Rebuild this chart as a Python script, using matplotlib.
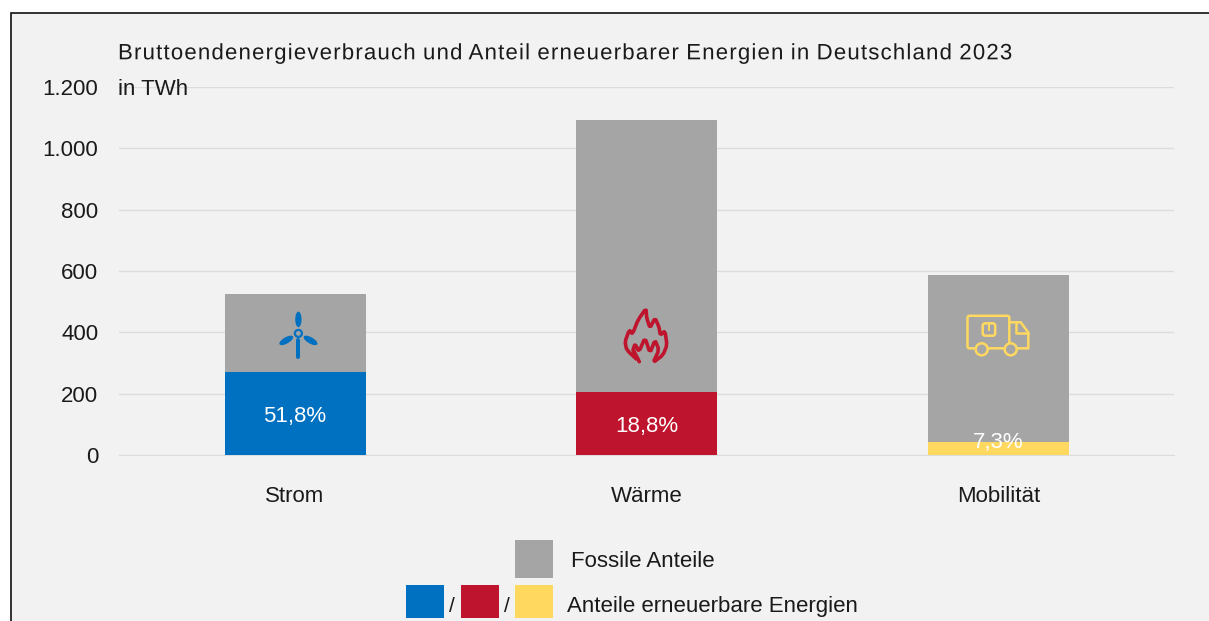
import numpy as np
import matplotlib
matplotlib.use("Agg")
import matplotlib.pyplot as plt
from matplotlib.patches import Rectangle, Circle, Ellipse, PathPatch, FancyBboxPatch
from matplotlib.path import Path
from matplotlib.patheffects import AbstractPathEffect
from matplotlib.transforms import Affine2D, IdentityTransform

categories = ["Strom", "Wärme", "Mobilität"]
renewable = [272, 205, 43]
fossil = [254, 889, 544]
share_labels = ["51,8%", "18,8%", "7,3%"]
yticks = [0, 200, 400, 600, 800, 1000, 1200]
ytick_labels = ["0", "200", "400", "600", "800", "1.000", "1.200"]
title = "Bruttoendenergieverbrauch und Anteil erneuerbarer Energien in Deutschland 2023"
unit = "in TWh"
legend_fossil = "Fossile Anteile"
legend_renew = "Anteile erneuerbare Energien"

GREY = "#a5a5a5"
BLUE = "#0070c0"
RED = "#be142d"
YELLOW = "#ffd860"
BG = "#f2f2f2"
TXT = "#1a1a1a"
FS = 16

W, H = 1209, 621
plt.rcParams["font.family"] = ["Liberation Sans", "DejaVu Sans"]
fig = plt.figure(figsize=(W / 100, H / 100), dpi=100, facecolor="white")


class LetterSpacing(AbstractPathEffect):
    """Spread the glyph outlines of a text by a fixed number of pixels."""

    def __init__(self, px):
        super().__init__()
        self.px = px

    def draw_path(self, renderer, gc, tpath, affine, rgbFace=None):
        verts = affine.transform(tpath.vertices)
        codes = tpath.codes
        starts = list(np.where(codes == Path.MOVETO)[0]) + [len(codes)]
        spans = []
        for a, b in zip(starts[:-1], starts[1:]):
            keep = codes[a:b] != Path.CLOSEPOLY
            xs = verts[a:b][keep, 0]
            spans.append((xs.min(), xs.max(), a, b))
        spans.sort()
        k, right = 0, None
        for lo, hi, a, b in spans:
            if right is not None and lo > right:
                k += 1
            right = hi if right is None else max(right, hi)
            verts[a:b, 0] += k * self.px
        renderer.draw_path(gc, Path(verts, codes), IdentityTransform(), rgbFace)


def smooth(points, r=0.18):
    pts = np.asarray(points, float)
    nxt = np.roll(pts, -1, axis=0)
    a = pts + r * (nxt - pts)
    b = pts + (1 - r) * (nxt - pts)
    return np.column_stack([a, b]).reshape(-1, 2)


# panel in pixel coordinates (y down)
ov = fig.add_axes([0, 0, 1, 1], zorder=0)
ov.set_xlim(0, W)
ov.set_ylim(H, 0)
ov.axis("off")
ov.add_patch(Rectangle((10.5, 12.5), W - 8, H + 20, fc=BG, ec="#111111", lw=1.2))

x0, x1 = 119.25, 1174.25
y_top, y_bot = 87, 455
ax = fig.add_axes([x0 / W, 1 - y_bot / H, (x1 - x0) / W, (y_bot - y_top) / H], zorder=1)
ax.patch.set_alpha(0)
x = np.arange(len(categories))
colors = [BLUE, RED, YELLOW]
ax.bar(x, renewable, width=0.401, color=colors, zorder=3)
ax.bar(x, fossil, width=0.401, bottom=renewable, color=GREY, zorder=3)
ax.set_xlim(-0.5, 2.5)
ax.set_ylim(0, 1200)
ax.set_yticks(yticks, ytick_labels)
ax.set_xticks(x, categories)
ax.grid(axis="y", color="#dcdcdc", lw=1, zorder=1)
ax.set_axisbelow(True)
ax.tick_params(length=0, labelsize=FS, labelcolor=TXT)
ax.tick_params(axis="y", pad=15)
ax.tick_params(axis="x", pad=22)
for s in ax.spines.values():
    s.set_visible(False)
ax.spines["bottom"].set_visible(True)
ax.spines["bottom"].set_color("#dcdcdc")

label_shift = [-8.5, -8.5, 0]
for i, (r, lab, dy) in enumerate(zip(renewable, share_labels, label_shift)):
    ax.annotate(lab, (i, r / 2), xytext=(0, dy), textcoords="offset pixels", color="white",
                fontsize=FS, ha="center", va="baseline", zorder=5)

ov2 = fig.add_axes([0, 0, 1, 1], zorder=2)
ov2.set_xlim(0, W)
ov2.set_ylim(H, 0)
ov2.axis("off")
ov2.text(118, 59.3, title, fontsize=FS, color=TXT, va="baseline", ha="left",
         path_effects=[LetterSpacing(1.18)])
ov2.text(118, 95, unit, fontsize=FS, color=TXT, va="baseline", ha="left")

# wind turbine icon
hub = (298.4, 333.4)
for ang in (0, 120, 240):
    e = Ellipse((hub[0], hub[1] - 14), 6.3, 15.5, fc=BLUE, ec="none")
    e.set_transform(Affine2D().rotate_deg_around(hub[0], hub[1], ang) + ov2.transData)
    ov2.add_patch(e)
ov2.plot([hub[0], hub[0]], [339.5, 356.5], color=BLUE, lw=2.9, solid_capstyle="round")
ov2.add_patch(Circle(hub, 3.5, fc="none", ec=BLUE, lw=1.6))

# flame icon
flame = [(639.3, 361.7), (626.7, 350), (625, 341.7), (629.3, 330), (632.5, 334), (638, 320), (646, 308.5),
         (646.7, 318), (650, 328), (655, 318), (659, 327), (660.3, 335), (665, 331), (667, 345), (663, 355), (653, 362.7),
         (659, 350), (655, 340), (650, 353), (645, 337.7), (639, 351.7), (635, 344), (633, 350)]
ov2.add_patch(PathPatch(Path(smooth(flame), closed=False), fc="none", ec=RED, lw=2.6, joinstyle="round"))
ov2.plot(*zip(flame[-1], flame[0]), color=RED, lw=2.6, solid_capstyle="round")

# truck icon
TLW = 1.8
ov2.add_patch(FancyBboxPatch((967.5, 315.8), 41.8, 32.5, boxstyle="round,pad=0,rounding_size=2",
                             fc="none", ec=YELLOW, lw=TLW))
ov2.add_patch(FancyBboxPatch((982.7, 323.3), 12.5, 12.4, boxstyle="round,pad=0,rounding_size=2.5",
                             fc="none", ec=YELLOW, lw=TLW))
ov2.plot([989.3, 989.3], [323.5, 330], color=YELLOW, lw=1.4)
ov2.plot([1009.3, 1020.7, 1028.3, 1028.3, 1016.7], [322.3, 322.3, 332.5, 348.3, 348.3], color=YELLOW, lw=TLW)
ov2.plot([1016, 1016, 1028.3], [322.3, 333.3, 333.3], color=YELLOW, lw=TLW)
for cx in (981.7, 1010.7):
    ov2.add_patch(Circle((cx, 349.3), 6, fc=GREY, ec=YELLOW, lw=TLW, zorder=4))

# legend
ov2.add_patch(Rectangle((515, 540), 38, 38, fc=GREY, ec="none"))
ov2.text(571, 566.7, legend_fossil, fontsize=FS, color=TXT, va="baseline", ha="left")
ov2.add_patch(Rectangle((406, 585), 38, 33, fc=BLUE, ec="none"))
ov2.text(451.7, 612, "/", fontsize=FS - 1, color=TXT, va="baseline", ha="center")
ov2.add_patch(Rectangle((461, 585), 38, 33, fc=RED, ec="none"))
ov2.text(507, 612, "/", fontsize=FS - 1, color=TXT, va="baseline", ha="center")
ov2.add_patch(Rectangle((515, 585), 38, 33, fc=YELLOW, ec="none"))
ov2.text(567, 611.7, legend_renew, fontsize=FS, color=TXT, va="baseline", ha="left")

fig.savefig("out.png", dpi=100, facecolor="white")
